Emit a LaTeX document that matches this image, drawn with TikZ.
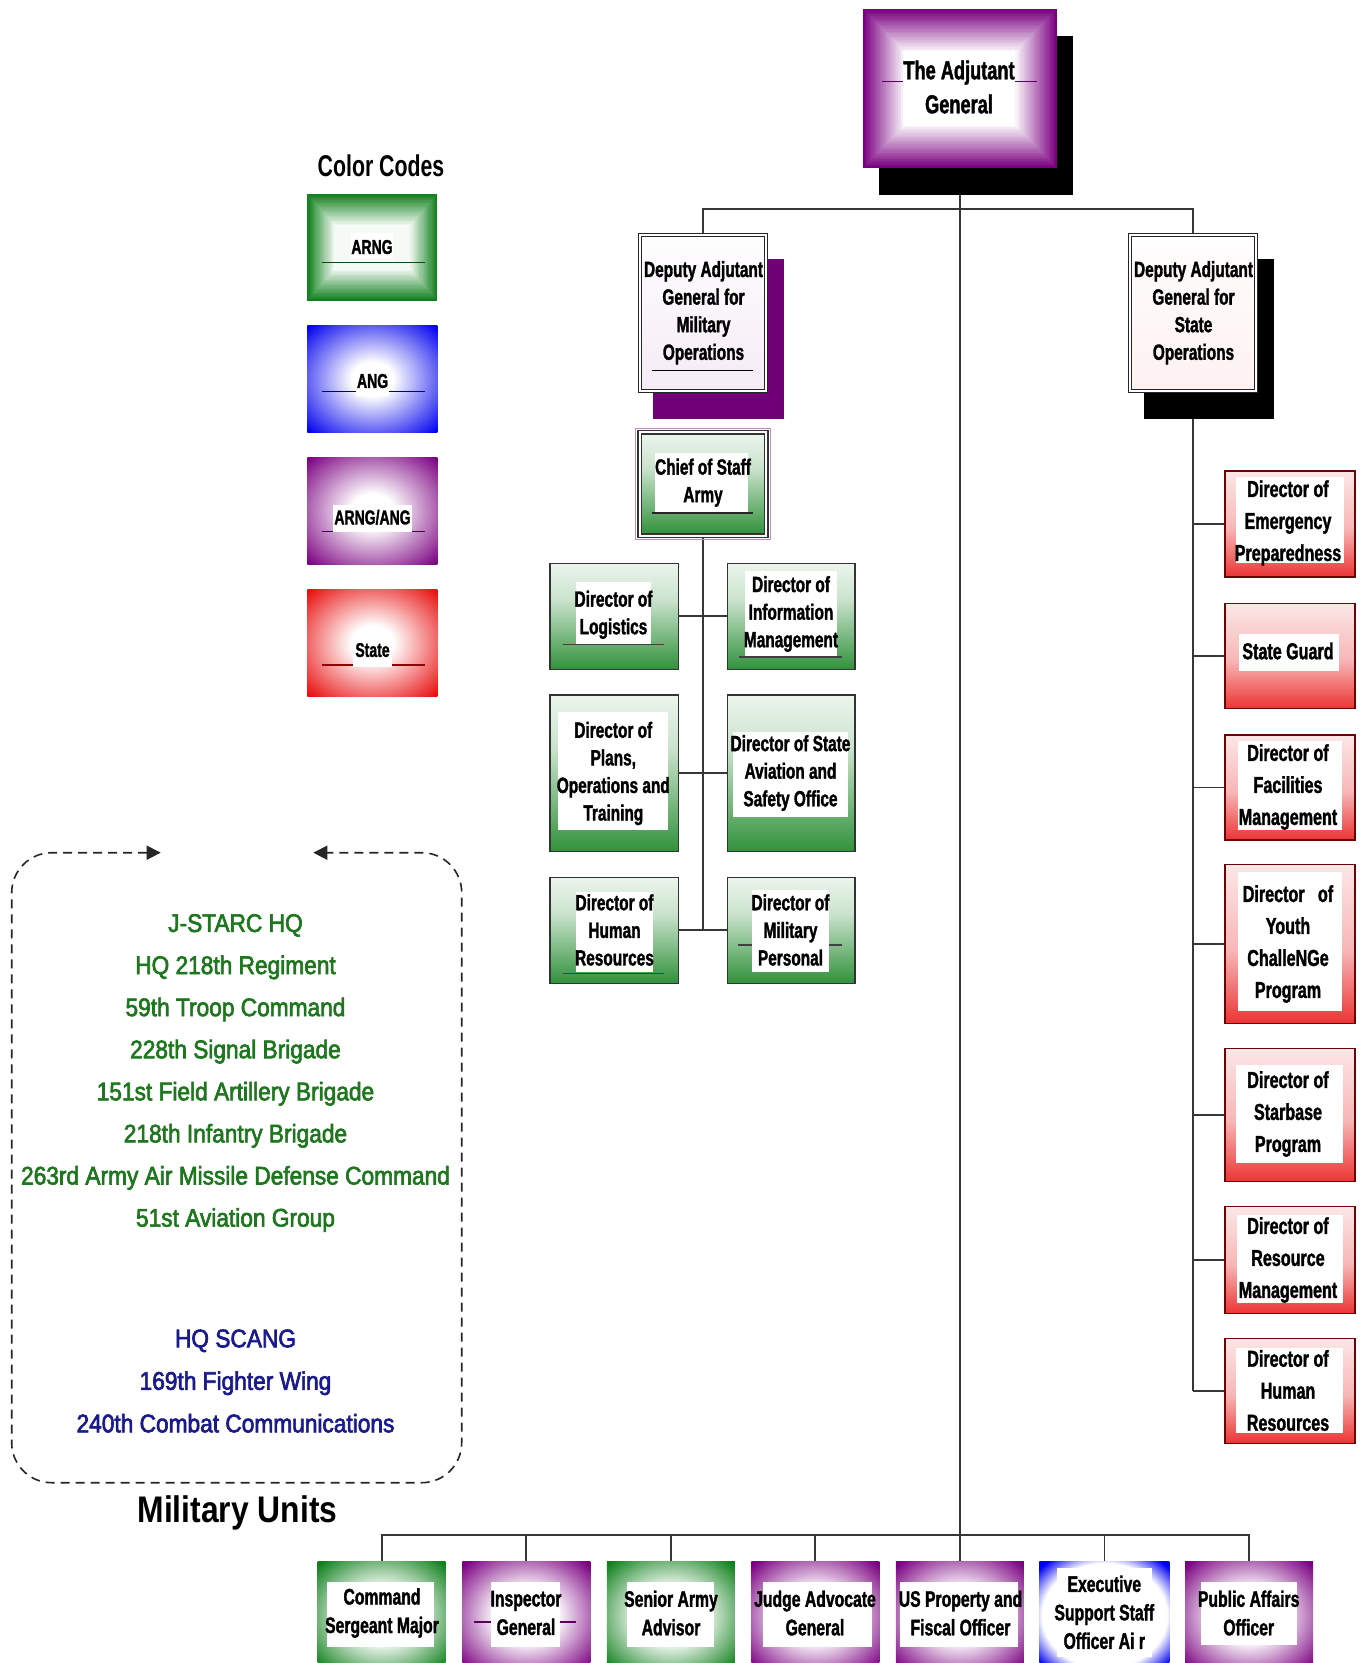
\documentclass[tikz,border=0pt]{standalone}
\usepackage{fontspec}
\setmainfont{Liberation Sans}
\newfontfamily\bxf{Liberation Sans}[FakeStretch=0.70,FakeBold=1.5]
\newfontfamily\ccf{Liberation Sans}[FakeStretch=0.71]
\newfontfamily\muf{Liberation Sans}[FakeStretch=0.86]
\newfontfamily\unf{Liberation Sans}[FakeStretch=0.89,FakeBold=2.5]
\usetikzlibrary{arrows.meta,backgrounds}

\definecolor{pur}{RGB}{122,0,128}
\definecolor{grn}{RGB}{16,128,28}
\definecolor{blu}{RGB}{0,0,238}
\definecolor{rd}{RGB}{232,12,12}
\definecolor{ugreen}{RGB}{30,118,30}
\definecolor{ublue}{RGB}{26,26,140}
\definecolor{lnk}{RGB}{55,55,55}

\pgfdeclareverticalshading{vG}{100bp}{color(0bp)=(grn!80!black); color(18bp)=(grn); color(58bp)=(grn!22!white); color(85bp)=(white); color(100bp)=(grn!8!white)}
\pgfdeclareverticalshading{vR}{100bp}{color(0bp)=(rd!90!black); color(18bp)=(rd); color(48bp)=(rd!30!white); color(78bp)=(rd!8!white); color(100bp)=(rd!22!white)}
\pgfdeclareverticalshading{vPt}{100bp}{color(0bp)=(pur!22!white); color(22bp)=(pur!8!white); color(80bp)=(white); color(90bp)=(pur!55!white); color(100bp)=(pur)}
\pgfdeclareverticalshading{vRt}{100bp}{color(0bp)=(rd!20!white); color(22bp)=(rd!6!white); color(80bp)=(white); color(90bp)=(rd!55!white); color(100bp)=(rd)}
\pgfdeclareradialshading{bG}{\pgfpoint{0bp}{0bp}}{color(0bp)=(white); color(12bp)=(white); color(34bp)=(grn); color(50bp)=(grn)}
\pgfdeclareradialshading{bP}{\pgfpoint{0bp}{0bp}}{color(0bp)=(white); color(12bp)=(white); color(34bp)=(pur); color(50bp)=(pur)}
\pgfdeclareradialshading{bB}{\pgfpoint{0bp}{0bp}}{color(0bp)=(white); color(24bp)=(white); color(33bp)=(blu); color(50bp)=(blu)}
\pgfdeclareradialshading{legB}{\pgfpoint{0bp}{0bp}}{color(0bp)=(white); color(8bp)=(white); color(35bp)=(blu); color(50bp)=(blu)}
\pgfdeclareradialshading{legP}{\pgfpoint{0bp}{0bp}}{color(0bp)=(white); color(8bp)=(white); color(35bp)=(pur); color(50bp)=(pur)}
\pgfdeclareradialshading{legR}{\pgfpoint{0bp}{0bp}}{color(0bp)=(white); color(8bp)=(white); color(35bp)=(rd); color(50bp)=(rd)}

% rectangular (frame) gradient: colour, x0, y0, x1, y1, depth x, depth y
\newcommand\framegrad[7]{%
  \foreach \k in {0,...,24}{%
    \pgfmathtruncatemacro\pc{100-\k*4}%
    \fill[#1!\pc!white] ({#2+#6*\k/24},{#3+#7*\k/24}) rectangle ({#4-#6*\k/24},{#5-#7*\k/24});
  }}

\tikzset{
  conn/.style={draw=lnk, line width=1.8pt},
  lbl/.style={align=center, inner sep=0pt, font=\bxf\bfseries\fontsize{22}{27.6}\selectfont},
  lblr/.style={align=center, inner sep=0pt, font=\bxf\bfseries\fontsize{23}{32}\selectfont},
  lblb/.style={align=center, inner sep=0pt, font=\bxf\bfseries\fontsize{22.5}{28.5}\selectfont},
  lblc/.style={align=center, inner sep=0pt, font=\bxf\bfseries\fontsize{20}{24}\selectfont},
  plain/.style={rectangle, inner sep=0pt},
  gbox/.style={plain, shade, shading=vG, draw=black!80, line width=1.5pt},
  rbox/.style={plain, shade, shading=vR, draw=rd!45!black, line width=1.5pt},
  botbox/.style={plain, minimum width=128pt, minimum height=109pt, shade},
  legbox/.style={plain, minimum width=130pt, minimum height=106.7pt},
  dec/.style={line width=1.5pt},
}

\begin{document}
\begin{tikzpicture}[x=1pt,y=-1pt]
\useasboundingbox (0,0) rectangle (1361,1663);

% ---------- top: The Adjutant General ----------
\fill[black] (878.9,36) rectangle (1072.9,195);
\node[plain, minimum width=194pt, minimum height=158.7pt, fill=pur] (tag) at (959.9,88.65) {};
\framegrad{pur}{862.9}{9.3}{1056.9}{168}{40}{41}
\draw[dec, pur!75!black] (881.7,81.7) -- (1037,81.7);
\fill[white] (902.7,50.7) rectangle (1015,126);
\node[lbl, font=\bxf\bfseries\fontsize{26}{34}\selectfont] (tagt) at (959,87) {The Adjutant\\General};

% ---------- Deputy Adjutant General for Military Operations ----------
\fill[pur!92!black] (653,259.3) rectangle (784,419.3);
\node[plain, minimum width=129.4pt, minimum height=159.4pt, fill=white, draw=black!85, line width=1.5pt] (dmo) at (703,313) {};
\shadedraw[shading=vPt, draw=black!85, line width=1.2pt] ([shift={(4,4)}]dmo.north west) rectangle ([shift={(-4,-4)}]dmo.south east);
\draw[dec, black] (651.7,370.7) -- (753.3,370.7);
\node[lbl] (dmot) at (703.5,312.7) {Deputy Adjutant\\General for\\Military\\Operations};

% ---------- Deputy Adjutant General for State Operations ----------
\fill[black] (1144,259.3) rectangle (1274,419.3);
\node[plain, minimum width=129.4pt, minimum height=159.4pt, fill=white, draw=black!85, line width=1.5pt] (dso) at (1193,313) {};
\shadedraw[shading=vRt, draw=black!85, line width=1.2pt] ([shift={(4,4)}]dso.north west) rectangle ([shift={(-4,-4)}]dso.south east);
\node[lbl] (dsot) at (1193.5,312.7) {Deputy Adjutant\\General for\\State\\Operations};

% ---------- Chief of Staff Army ----------
\node[plain, minimum width=130pt, minimum height=106.6pt, fill=white, draw=black!80, line width=1.5pt] (cos) at (703,484) {};
\draw[pur!45!white, line width=1pt] ([shift={(-1.8,-1.8)}]cos.north west) rectangle ([shift={(1.8,1.8)}]cos.south east);
\shadedraw[shading=vG, draw=black!80, line width=1.2pt] ([shift={(4,4)}]cos.north west) rectangle ([shift={(-4,-4)}]cos.south east);
\fill[white] (655,453) rectangle (748,512.7);
\draw[dec, black!85] (651.7,513) -- (753.3,513);
\node[lbl] (cost) at (703,482.7) {Chief of Staff\\Army};

% ---------- green directors ----------
\node[gbox, minimum width=128.3pt, minimum height=106pt] (dlog) at (614.2,616.3) {};
\draw[dec, black!75] (562.7,644.3) -- (664,644.3);
\fill[white] (576,582) rectangle (651,644);
\node[lbl] (dlogt) at (613.5,614.8) {Director of\\Logistics};

\node[gbox, minimum width=127.7pt, minimum height=106pt] (dim) at (791.2,616.3) {};
\draw[dec, black!75] (739,657) -- (842,657);
\fill[white] (745,570.7) rectangle (836.7,656);
\node[lbl] (dimt) at (791,614) {Director of\\Information\\Management};

\node[gbox, minimum width=128.3pt, minimum height=156.7pt] (dpl) at (614.2,773.3) {};
\fill[white] (558.3,711.7) rectangle (668.3,830);
\node[lbl] (dplt) at (613.3,773.5) {Director of\\Plans,\\Operations and\\Training};

\node[gbox, minimum width=127.7pt, minimum height=156.7pt] (dav) at (791.2,773.3) {};
\fill[white] (732.7,731.7) rectangle (848.3,816.7);
\node[lbl] (davt) at (790.5,773) {Director of State\\Aviation and\\Safety Office};

\node[gbox, minimum width=128.3pt, minimum height=106pt] (dhr) at (614.2,930.3) {};
\draw[dec, black!75] (562.7,973.3) -- (664,973.3);
\fill[white] (576,891.7) rectangle (653,972.2);
\node[lbl] (dhrt) at (614.5,930) {Director of\\Human\\Resources};

\node[gbox, minimum width=127.7pt, minimum height=106pt] (dmp) at (791.2,930.3) {};
\draw[dec, black!75] (738,945) -- (842,945);
\fill[white] (751.7,890) rectangle (829.3,971.7);
\node[lbl] (dmpt) at (790.5,930) {Director of\\Military\\Personal};

% ---------- red directors ----------
\node[rbox, minimum width=130pt, minimum height=106pt] (dep) at (1290,524) {};
\fill[white] (1236,477) rectangle (1344,563);
\node[lblr] (dept) at (1288,523) {Director of\\Emergency\\Preparedness};

\node[rbox, minimum width=130pt, minimum height=105pt] (dsg) at (1290,656) {};
\fill[white] (1239,634) rectangle (1339,670.5);
\node[lblr] (dsgt) at (1288,651) {State Guard};

\node[rbox, minimum width=130pt, minimum height=105pt] (dfm) at (1290,787.5) {};
\fill[white] (1238,741) rectangle (1342,830);
\node[lblr] (dfmt) at (1288,787) {Director of\\Facilities\\Management};

\node[rbox, minimum width=130pt, minimum height=159pt] (dyc) at (1290,944) {};
\fill[white] (1238,872) rectangle (1342,1011);
\node[lblr] (dyct) at (1288,944) {Director~~~of\\Youth\\ChalleNGe\\Program};

\node[rbox, minimum width=130pt, minimum height=133.4pt] (dsb) at (1290,1115) {};
\fill[white] (1236,1065) rectangle (1343,1163);
\node[lblr] (dsbt) at (1288,1114) {Director of\\Starbase\\Program};

\node[rbox, minimum width=130pt, minimum height=106.6pt] (drm) at (1290,1260) {};
\fill[white] (1236.7,1215) rectangle (1343.3,1303);
\node[lblr] (drmt) at (1288,1260) {Director of\\Resource\\Management};

\node[rbox, minimum width=130pt, minimum height=105pt] (dhrs) at (1290,1390.8) {};
\fill[white] (1236,1348) rectangle (1343,1433);
\node[lblr] (dhrst) at (1288,1390.5) {Director of\\Human\\Resources};

% ---------- bottom row ----------
\node[botbox, shading=bG] (csm) at (381.7,1615.5) {};
\fill[white] (326.8,1582) rectangle (434,1647);
\node[lblb] (csmt) at (382,1613) {Command\\Sergeant Major};

\node[botbox, shading=bP] (ig) at (526.25,1615.5) {};
\draw[dec, pur!75!black] (474,1621.8) -- (575.7,1621.8);
\fill[white] (491,1582) rectangle (560,1647);
\node[lblb] (igt) at (526,1613) {Inspector\\General};

\node[botbox, shading=bG] (saa) at (670.8,1615.5) {};
\fill[white] (626.8,1582) rectangle (714.3,1647);
\node[lblb] (saat) at (671,1613) {Senior Army\\Advisor};

\node[botbox, shading=bP] (jag) at (815.35,1615.5) {};
\fill[white] (762.5,1582) rectangle (871.7,1647);
\node[lblb] (jagt) at (815,1613) {Judge Advocate\\General};

\node[botbox, shading=bP] (uspfo) at (959.9,1615.5) {};
\fill[white] (900,1582) rectangle (1018,1647);
\node[lblb] (uspfot) at (960.5,1613) {US Property and\\Fiscal Officer};

\node[botbox, shading=bB, minimum width=130pt] (ess) at (1104.45,1615.5) {};
\fill[white] (1056.7,1568) rectangle (1151.7,1657);
\node[lblb] (esst) at (1104.3,1612.3) {Executive\\Support Staff\\Officer Ai r};

\node[botbox, shading=bP] (pao) at (1249,1615.5) {};
\fill[white] (1200.7,1582) rectangle (1296.7,1645);
\node[lblb] (paot) at (1248.7,1613) {Public Affairs\\Officer};

% ---------- colour codes ----------
\node[font=\ccf\bfseries\fontsize{30}{32}\selectfont, inner sep=0pt] (cc) at (381,166) {Color Codes};

\node[legbox, fill=grn] (lga) at (372.3,247.35) {};
\framegrad{grn}{307.3}{194}{437.3}{300.7}{27}{31}
\draw[dec, grn!60!black] (321.7,262.3) -- (425,262.3);
\fill[white] (350.7,233.3) rectangle (393.3,260);
\node[lblc] (lgat) at (372,247) {ARNG};

\node[legbox, shade, shading=legB] (lgb) at (372.3,379) {};
\draw[dec, blu!55!black] (321.7,391.7) -- (425,391.7);
\fill[white] (356,369.3) rectangle (389.3,396);
\node[lblc] (lgbt) at (372.6,381) {ANG};

\node[legbox, shade, shading=legP] (lgc) at (372.3,510.65) {};
\draw[dec, pur!60!black] (321.7,531.7) -- (425,531.7);
\fill[white] (333.3,505) rectangle (411.7,531.7);
\node[lblc] (lgct) at (372.5,517.3) {ARNG/ANG};

\node[legbox, shade, shading=legR] (lgd) at (372.3,642.65) {};
\draw[dec, rd!60!black] (321.7,665) -- (425,665);
\fill[white] (353.3,636.7) rectangle (391.7,666.7);
\node[lblc] (lgdt) at (372.5,650) {State};

% ---------- military units ----------
\coordinate (fa) at (160.7,852.7);
\coordinate (fb) at (313.3,852.7);
\draw[black!85, dash pattern=on 9pt off 6pt, line width=1.6pt, rounded corners=40pt,
      {Triangle[length=14pt,width=14pt]}-{Triangle[length=14pt,width=14pt]}]
  (fa) -- (11.7,852.7) -- (11.7,1482.7) -- (461.7,1482.7) -- (461.7,852.7) -- (fb);

\node[font=\unf\fontsize{25.5}{42.1}\selectfont, text=ugreen, align=center, inner sep=0pt] (armyu) at (235.5,1073)
  {J-STARC HQ\\HQ 218th Regiment\\59th Troop Command\\228th Signal Brigade\\151st Field Artillery Brigade\\218th Infantry Brigade\\263rd Army Air Missile Defense Command\\51st Aviation Group};
\node[font=\unf\fontsize{25.5}{42.5}\selectfont, text=ublue, align=center, inner sep=0pt] (airu) at (235.5,1381)
  {HQ SCANG\\169th Fighter Wing\\240th Combat Communications};
\node[font=\muf\bfseries\fontsize{37}{40}\selectfont, inner sep=0pt] (mu) at (237.5,1513.3) {Military Units};

% ---------- connectors ----------
\begin{pgfonlayer}{background}
\fill[white] (0,0) rectangle (1361,1663);
\coordinate (tbar) at (959.9,209.3);
\coordinate (bbar) at (959.9,1535);
\draw[conn] (tag.center) -- (tag.center |- bbar);
\draw[conn] (dmo.center) -- (dmo.center |- tbar) -- (dso.center |- tbar) -- (dso.center);
\draw[conn] (cos.center) -- (cos.center |- dhr.center);
\draw[conn] (dlog.center) -- (dim.center);
\draw[conn] (dpl.center) -- (dav.center);
\draw[conn] (dhr.center) -- (dmp.center);
\draw[conn] (dso.center) -- (dso.center |- dhrs.center);
\foreach \n in {dep,dsg,dfm,dyc,dsb,drm,dhrs}
  \draw[conn] (dso.center |- \n.center) -- (\n.center);
\draw[conn] (csm.center) -- (csm.center |- bbar) -- (pao.center |- bbar) -- (pao.center);
\foreach \n in {ig,saa,jag,uspfo,ess}
  \draw[conn] (\n.center |- bbar) -- (\n.center);
\end{pgfonlayer}
\end{tikzpicture}
\end{document}
